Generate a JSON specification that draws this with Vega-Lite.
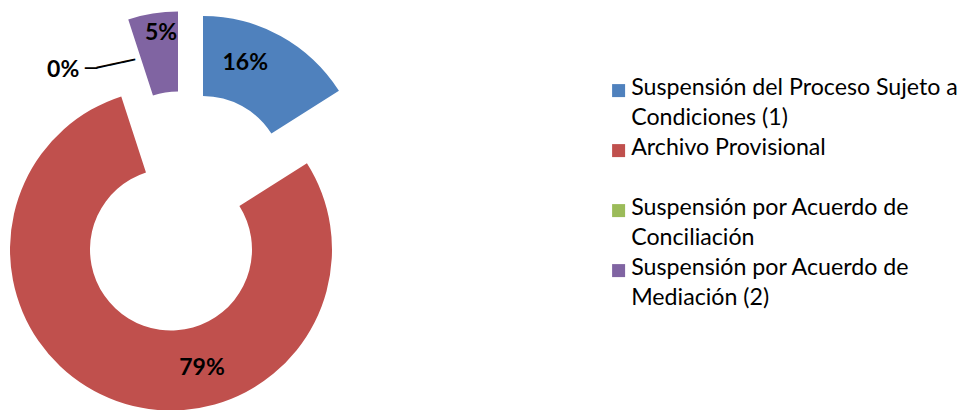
{
  "$schema": "https://vega.github.io/schema/vega-lite/v6.json",
  "width": 370,
  "height": 410,
  "padding": 0,
  "background": "white",
  "view": {"stroke": null},
  "config": {"font": "Lato"},
  "data": {
    "values": [
      {"categoria": "Suspensión del Proceso Sujeto a Condiciones (1)", "orden": 1, "valor": 0.16},
      {"categoria": "Archivo Provisional", "orden": 2, "valor": 0.79},
      {"categoria": "Suspensión por Acuerdo de Conciliación", "orden": 3, "valor": 0.0},
      {"categoria": "Suspensión por Acuerdo de Mediación (2)", "orden": 4, "valor": 0.05}
    ]
  },
  "transform": [
    {"stack": "valor", "groupby": [], "sort": [{"field": "orden", "order": "ascending"}], "as": ["v0", "v1"]}
  ],
  "encoding": {
    "color": {
      "field": "categoria",
      "type": "nominal",
      "scale": {
        "domain": [
          "Suspensión del Proceso Sujeto a Condiciones (1)",
          "Archivo Provisional",
          "Suspensión por Acuerdo de Conciliación",
          "Suspensión por Acuerdo de Mediación (2)"
        ],
        "range": ["#4F81BD", "#C0504D", "#9BBB59", "#8064A2"]
      },
      "legend": {
        "orient": "none",
        "legendX": 607,
        "legendY": 79,
        "title": null,
        "symbolType": "square",
        "symbolSize": 169,
        "symbolStrokeWidth": 0,
        "labelFont": "Lato",
        "labelFontSize": 23.2,
        "labelColor": "#000000",
        "labelOffset": 1,
        "labelLimit": 400,
        "labelBaseline": "top",
        "rowPadding": 6,
        "labelExpr": "datum.label == 'Suspensión del Proceso Sujeto a Condiciones (1)' ? ['Suspensión del Proceso Sujeto a', 'Condiciones (1)'] : datum.label == 'Archivo Provisional' ? ['Archivo Provisional', ' '] : datum.label == 'Suspensión por Acuerdo de Conciliación' ? ['Suspensión por Acuerdo de', 'Conciliación'] : ['Suspensión por Acuerdo de', 'Mediación (2)']",
        "encode": {"labels": {"update": {"lineHeight": {"value": 30}, "dy": {"value": -13.5}}}}
      }
    }
  },
  "layer": [
    {
      "transform": [{"filter": "datum.orden == 1"}],
      "mark": {"type": "arc", "radius": 161, "radius2": 81, "xOffset": 18, "yOffset": -28},
      "encoding": {
        "theta": {"field": "v0", "type": "quantitative", "scale": {"domain": [0, 1]}},
        "theta2": {"field": "v1"}
      }
    },
    {
      "transform": [{"filter": "datum.orden == 2"}],
      "mark": {"type": "arc", "radius": 161, "radius2": 81, "xOffset": -14, "yOffset": 44.5},
      "encoding": {
        "theta": {"field": "v0", "type": "quantitative", "scale": {"domain": [0, 1]}},
        "theta2": {"field": "v1"}
      }
    },
    {
      "transform": [{"filter": "datum.orden == 3"}],
      "mark": {"type": "arc", "radius": 161, "radius2": 81, "xOffset": -13, "yOffset": -31},
      "encoding": {
        "theta": {"field": "v0", "type": "quantitative", "scale": {"domain": [0, 1]}},
        "theta2": {"field": "v1"}
      }
    },
    {
      "transform": [{"filter": "datum.orden == 4"}],
      "mark": {"type": "arc", "radius": 161, "radius2": 81, "xOffset": -7, "yOffset": -32.5},
      "encoding": {
        "theta": {"field": "v0", "type": "quantitative", "scale": {"domain": [0, 1]}},
        "theta2": {"field": "v1"}
      }
    },
    {
      "mark": {"type": "text", "radius": 121, "xOffset": 2, "yOffset": -36, "font": "Lato", "fontSize": 23, "fontWeight": "bold"},
      "encoding": {
        "theta": {"field": "valor", "type": "quantitative", "stack": true, "scale": {"domain": [0, 1]}},
        "order": {"field": "orden", "type": "quantitative"},
        "text": {"condition": {"test": "datum.orden == 1", "field": "valor", "type": "quantitative", "format": ".0%"}, "value": ""},
        "color": {"value": "#000000"}
      }
    },
    {
      "mark": {"type": "text", "radius": 121, "xOffset": 58, "yOffset": 49.5, "font": "Lato", "fontSize": 23, "fontWeight": "bold"},
      "encoding": {
        "theta": {"field": "valor", "type": "quantitative", "stack": true, "scale": {"domain": [0, 1]}},
        "order": {"field": "orden", "type": "quantitative"},
        "text": {"condition": {"test": "datum.orden == 2", "field": "valor", "type": "quantitative", "format": ".0%"}, "value": ""},
        "color": {"value": "#000000"}
      }
    },
    {
      "mark": {"type": "text", "radius": 121, "xOffset": -84.4, "yOffset": -20, "font": "Lato", "fontSize": 23, "fontWeight": "bold"},
      "encoding": {
        "theta": {"field": "valor", "type": "quantitative", "stack": true, "scale": {"domain": [0, 1]}},
        "order": {"field": "orden", "type": "quantitative"},
        "text": {"condition": {"test": "datum.orden == 3", "field": "valor", "type": "quantitative", "format": ".0%"}, "value": ""},
        "color": {"value": "#000000"}
      }
    },
    {
      "mark": {"type": "text", "radius": 121, "xOffset": -56.6, "yOffset": -21.4, "font": "DejaVu Sans Mono", "fontSize": 20},
      "encoding": {
        "theta": {"field": "valor", "type": "quantitative", "stack": true, "scale": {"domain": [0, 1]}},
        "order": {"field": "orden", "type": "quantitative"},
        "text": {"condition": {"test": "datum.orden == 3", "value": "─"}, "value": ""},
        "color": {"value": "#000000"}
      }
    },
    {
      "mark": {"type": "text", "radius": 121, "xOffset": -31.6, "yOffset": -25.9, "angle": -12, "font": "DejaVu Sans Mono", "fontSize": 21.7},
      "encoding": {
        "theta": {"field": "valor", "type": "quantitative", "stack": true, "scale": {"domain": [0, 1]}},
        "order": {"field": "orden", "type": "quantitative"},
        "text": {"condition": {"test": "datum.orden == 3", "value": "───"}, "value": ""},
        "color": {"value": "#000000"}
      }
    },
    {
      "mark": {"type": "text", "radius": 121, "xOffset": -5, "yOffset": -52.5, "font": "Lato", "fontSize": 23, "fontWeight": "bold"},
      "encoding": {
        "theta": {"field": "valor", "type": "quantitative", "stack": true, "scale": {"domain": [0, 1]}},
        "order": {"field": "orden", "type": "quantitative"},
        "text": {"condition": {"test": "datum.orden == 4", "field": "valor", "type": "quantitative", "format": ".0%"}, "value": ""},
        "color": {"value": "#000000"}
      }
    }
  ]
}
